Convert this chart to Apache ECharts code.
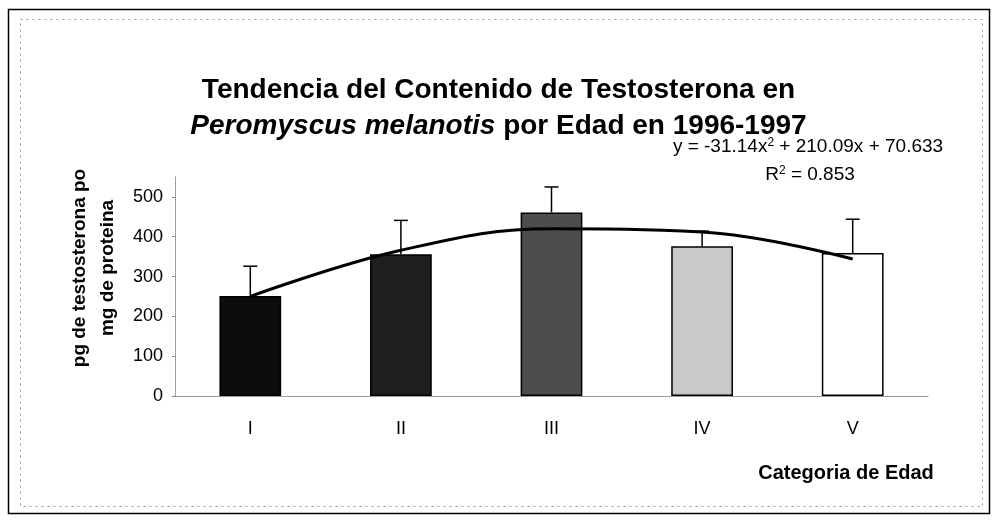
<!DOCTYPE html>
<html>
<head>
    <meta charset="utf-8">
    <title>Testosterona</title>
    <script src="https://cdn.jsdelivr.net/npm/echarts@6/dist/echarts.min.js"></script>
</head>
<body style="margin:0;background:#fff;">
    <div id="main" style="width: 997px;height:520px;"></div>
    <script type="text/javascript">
        var categories = ['I', 'II', 'III', 'IV', 'V'];
        var meanValues = [251, 356, 461, 376, 359];
        var upperValues = [326, 441, 525, 414, 444];
        var trendValues = [250, 366, 420, 412, 344];
        var barColors = ['#0d0d0d', '#1e1e1e', '#4d4d4d', '#c9c9c9', '#ffffff'];
        var yTicks = [0, 100, 200, 300, 400, 500];

        var myChart = echarts.init(document.getElementById('main'));

        var font = 'Liberation Sans, Arial, sans-serif';

        option = {
            backgroundColor: '#fff',
            animation: false,
            title: {
                text: 'Tendencia del Contenido de Testosterona en\n{it|Peromyscus melanotis} por Edad en 1996-1997',
                left: 'center',
                top: 67,
                textStyle: {
                    fontFamily: font,
                    fontSize: 28,
                    fontWeight: 'bold',
                    color: '#000',
                    lineHeight: 36,
                    rich: {
                        it: {
                            fontFamily: font,
                            fontSize: 28,
                            fontWeight: 'bold',
                            fontStyle: 'italic',
                            color: '#000',
                            lineHeight: 36
                        }
                    }
                }
            },
            graphic: [{
                type: 'rect',
                shape: { x: 8.5, y: 9.5, width: 981, height: 504 },
                style: { fill: 'none', stroke: '#000', lineWidth: 1.5 }
            }, {
                type: 'rect',
                shape: { x: 20.5, y: 19.5, width: 962, height: 487 },
                style: { fill: 'none', stroke: '#999', lineWidth: 1, lineDash: [2, 4] }
            }, {
                type: 'text',
                x: 808,
                y: 147,
                style: {
                    text: 'y = -31.14x{sup|2} + 210.09x + 70.633',
                    font: '19px ' + font,
                    fill: '#000',
                    align: 'center',
                    verticalAlign: 'middle',
                    rich: { sup: { fontSize: 12, padding: [0, 0, 9, 0] } }
                }
            }, {
                type: 'text',
                x: 810,
                y: 175,
                style: {
                    text: 'R{sup|2} = 0.853',
                    font: '19px ' + font,
                    fill: '#000',
                    align: 'center',
                    verticalAlign: 'middle',
                    rich: { sup: { fontSize: 12, padding: [0, 0, 9, 0] } }
                }
            }, {
                type: 'text',
                x: 846,
                y: 473,
                style: {
                    text: 'Categoria de Edad',
                    font: 'bold 20px ' + font,
                    fill: '#000',
                    align: 'center',
                    verticalAlign: 'middle'
                }
            }, {
                type: 'text',
                x: 94,
                y: 268,
                rotation: Math.PI / 2,
                style: {
                    text: 'pg de testosterona po\nmg de proteina',
                    font: 'bold 19px ' + font,
                    fill: '#000',
                    align: 'center',
                    verticalAlign: 'middle',
                    lineHeight: 28
                }
            }],
            grid: {
                left: 175,
                right: 69,
                top: 177,
                bottom: 124
            },
            xAxis: {
                type: 'category',
                data: categories,
                axisLine: { lineStyle: { color: '#888', type: 'dotted', width: 1 } },
                axisTick: { show: false },
                axisLabel: {
                    margin: 24,
                    fontFamily: font,
                    fontSize: 18,
                    color: '#000'
                }
            },
            yAxis: {
                type: 'value',
                min: 0,
                max: 550,
                interval: 100,
                axisLine: { show: true, lineStyle: { color: '#888', type: 'dotted', width: 1 } },
                axisTick: { show: true, length: 3, lineStyle: { color: '#888' } },
                splitLine: { show: false },
                axisLabel: {
                    margin: 12,
                    fontFamily: font,
                    fontSize: 18,
                    color: '#000',
                    showMaxLabel: false,
                    formatter: function (v) { return yTicks.indexOf(v) >= 0 ? v : ''; }
                }
            },
            series: [{
                type: 'bar',
                barWidth: '41%',
                data: meanValues.map(function (v, i) {
                    return {
                        value: v,
                        itemStyle: { color: barColors[i], borderColor: '#000', borderWidth: 1.5 }
                    };
                }),
                z: 2
            }, {
                type: 'custom',
                z: 3,
                data: upperValues.map(function (v, i) { return [i, meanValues[i], v]; }),
                renderItem: function (params, api) {
                    var base = api.coord([api.value(0), api.value(1)]);
                    var top = api.coord([api.value(0), api.value(2)]);
                    var half = 7;
                    return {
                        type: 'group',
                        children: [{
                            type: 'line',
                            shape: { x1: base[0], y1: base[1], x2: top[0], y2: top[1] },
                            style: { stroke: '#000', lineWidth: 1.5 }
                        }, {
                            type: 'line',
                            shape: { x1: top[0] - half, y1: top[1], x2: top[0] + half, y2: top[1] },
                            style: { stroke: '#000', lineWidth: 1.5 }
                        }]
                    };
                }
            }, {
                type: 'line',
                data: trendValues,
                smooth: 0.4,
                symbol: 'none',
                z: 4,
                lineStyle: { color: '#000', width: 3 }
            }]
        };

        myChart.setOption(option);
    </script>
</body>
</html>
